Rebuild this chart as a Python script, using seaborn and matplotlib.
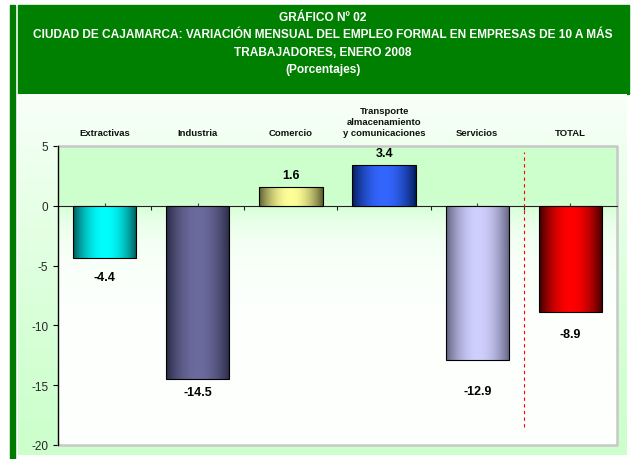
import numpy as np
import pandas as pd
import matplotlib
matplotlib.use('Agg')
import matplotlib.pyplot as plt
import matplotlib.transforms as mtransforms
from matplotlib.patches import Rectangle
from matplotlib.colors import to_rgb
import seaborn as sns

# Data
categories = ['Extractivas', 'Industria', 'Comercio',
              'Transporte\nalmacenamiento\ny comunicaciones', 'Servicios', 'TOTAL']
values = [-4.4, -14.5, 1.6, 3.4, -12.9, -8.9]
value_labels = ['-4.4', '-14.5', '1.6', '3.4', '-12.9', '-8.9']
y_ticks = [5, 0, -5, -10, -15, -20]

title_lines = ['GRÁFICO Nº 02',
               'CIUDAD DE CAJAMARCA: VARIACIÓN MENSUAL DEL EMPLEO FORMAL EN EMPRESAS DE 10 A MÁS',
               'TRABAJADORES, ENERO 2008',
               '(Porcentajes)']

# Bar styling: (center colour, edge colour) for a cylinder-like shading
bar_center = ['#00FFFF', '#6B6B9E', '#FFFF99', '#3366FF', '#D0D0FF', '#FF0000']
bar_edge = ['#005050', '#262640', '#55552A', '#001A55', '#5A5A78', '#300000']
label_offsets_px = [19, 12.5, 12, 12, 31, 22]

sns.set_theme(style='white')
plt.rcParams['font.family'] = ['Liberation Sans', 'DejaVu Sans']

W, H = 631, 460
fig = plt.figure(figsize=(W / 100, H / 100), dpi=100)
fig.patch.set_facecolor('white')


def fx(px):
    return px / W


def fy(py):
    return 1 - py / H


def vgrad(top_col, bot_col, weight, n=256):
    """vertical gradient image, weight(t) = share of top colour, t=0 at top"""
    t = np.linspace(0, 1, n)[:, None]
    w = weight(t)
    a, b = np.array(to_rgb(top_col)), np.array(to_rgb(bot_col))
    img = b + (a - b) * w[..., None]
    return np.repeat(img, 2, axis=1)


# Frame pieces (figure pixel layout)
fig.patches.append(Rectangle((fx(10), fy(460)), fx(5), fy(6) - fy(460),
                             transform=fig.transFigure, color='#007A00', zorder=-2))
fig.patches.append(Rectangle((fx(18), fy(95)), fx(629 - 18), fy(6) - fy(95),
                             transform=fig.transFigure, color='#008000', zorder=-2))

# chart panel: almost white at the top, light green at the bottom
bg_ax = fig.add_axes([fx(18), fy(456), fx(627 - 18), fy(95) - fy(456)], zorder=-1)
bg_ax.imshow(vgrad('#F8FFF8', '#CCFFCC', lambda t: (1 - t) ** 1.3),
             extent=[0, 1, 0, 1], aspect='auto', interpolation='bilinear')
bg_ax.set_axis_off()

fig.text(fx(323), fy(44), '\n'.join(title_lines), ha='center', va='center',
         color='white', fontsize=8.6, fontweight='bold', linespacing=1.6)

ax = fig.add_axes([fx(58), fy(446), fx(617 - 58), fy(147) - fy(446)])

df = pd.DataFrame({'cat': categories, 'val': values})
sns.barplot(data=df, x='cat', y='val', hue='cat', palette=bar_center, legend=False,
            width=0.68, ax=ax, edgecolor='black', linewidth=0.8, saturation=1)

n = len(categories)
xlim = (-0.5, n - 0.5)
ylim = (min(y_ticks), max(y_ticks))

# Plot area background: light green above zero, fading to white below
ax.imshow(vgrad('#CCFFCC', '#FDFFFD',
                lambda t: np.where(t < 0.18, 1.0, np.exp(-(t - 0.18) / 0.09))),
          extent=[0, 1, 0, 1], transform=ax.transAxes, aspect='auto',
          zorder=0, interpolation='bilinear')

# Cylinder shading on each bar
s = np.linspace(0, 1, 200)
prof = np.sin(np.pi * s) ** 0.8
for patch, c, e in zip(ax.patches, bar_center, bar_edge):
    bb = patch.get_bbox()
    cc, ee = np.array(to_rgb(c)), np.array(to_rgb(e))
    grad = ee + (cc - ee) * prof[:, None]
    grad = grad[None, :, :].repeat(2, axis=0)
    im = ax.imshow(grad, extent=[bb.x0, bb.x1, bb.y0, bb.y1], aspect='auto',
                   zorder=2, interpolation='bilinear')
    im.set_clip_path(patch)
    patch.set_facecolor('none')
    patch.set_zorder(3)

# Value labels
for i, (v, lab, off) in enumerate(zip(values, value_labels, label_offsets_px)):
    dy = off * 0.72 if v >= 0 else -off * 0.72
    ax.annotate(lab, (i, v), xytext=(0, dy), textcoords='offset points',
                ha='center', va='center', fontsize=9, fontweight='bold',
                color='black', zorder=5)

# Category labels above the plot
tr = mtransforms.blended_transform_factory(ax.transData, fig.transFigure)
for i, cat in enumerate(categories):
    ax.text(i, fy(138), cat, transform=tr, ha='center', va='bottom',
            fontsize=6.8, fontweight='bold', linespacing=1.25, color='#111111')

# Separator between sectors and total
ax.vlines(n - 1.5, -18.5, 4.5, colors='red', linestyles=(0, (3, 3)),
          linewidth=0.8, zorder=4)

# Axes styling
ax.set_xlim(*xlim)
ax.set_ylim(*ylim)
ax.set_yticks(y_ticks)
ax.set_yticklabels([str(v) for v in y_ticks], fontsize=8.5)
ax.set_xticks(np.arange(n - 1) + 0.5)
ax.set_xticks(np.arange(n), minor=True)
ax.set_xticklabels([])
ax.set_xlabel('')
ax.set_ylabel('')
ax.spines['bottom'].set_position(('data', 0))
ax.spines['bottom'].set_color('#222222')
ax.spines['bottom'].set_linewidth(0.8)
ax.spines['bottom'].set_zorder(1)
ax.spines['left'].set_color('black')
ax.spines['left'].set_linewidth(1.0)
ax.spines['left'].set_zorder(4)
ax.spines['top'].set_visible(False)
ax.spines['right'].set_visible(False)
ax.tick_params(axis='x', which='major', direction='out', length=3, width=0.8,
               color='#222222', pad=0, bottom=True)
ax.tick_params(axis='x', which='minor', direction='in', length=2, width=0.8,
               color='#444444', bottom=True)
ax.tick_params(axis='y', direction='out', length=3.5, width=0.8, color='black',
               left=True, pad=3.5)

# Grey border round the plot area
ax.plot([0, 1, 1, 0], [1, 1, 0, 0], transform=ax.transAxes, color='#C8C8C8',
        linewidth=1.8, clip_on=False, zorder=1)

fig.savefig('out.png', dpi=100)
